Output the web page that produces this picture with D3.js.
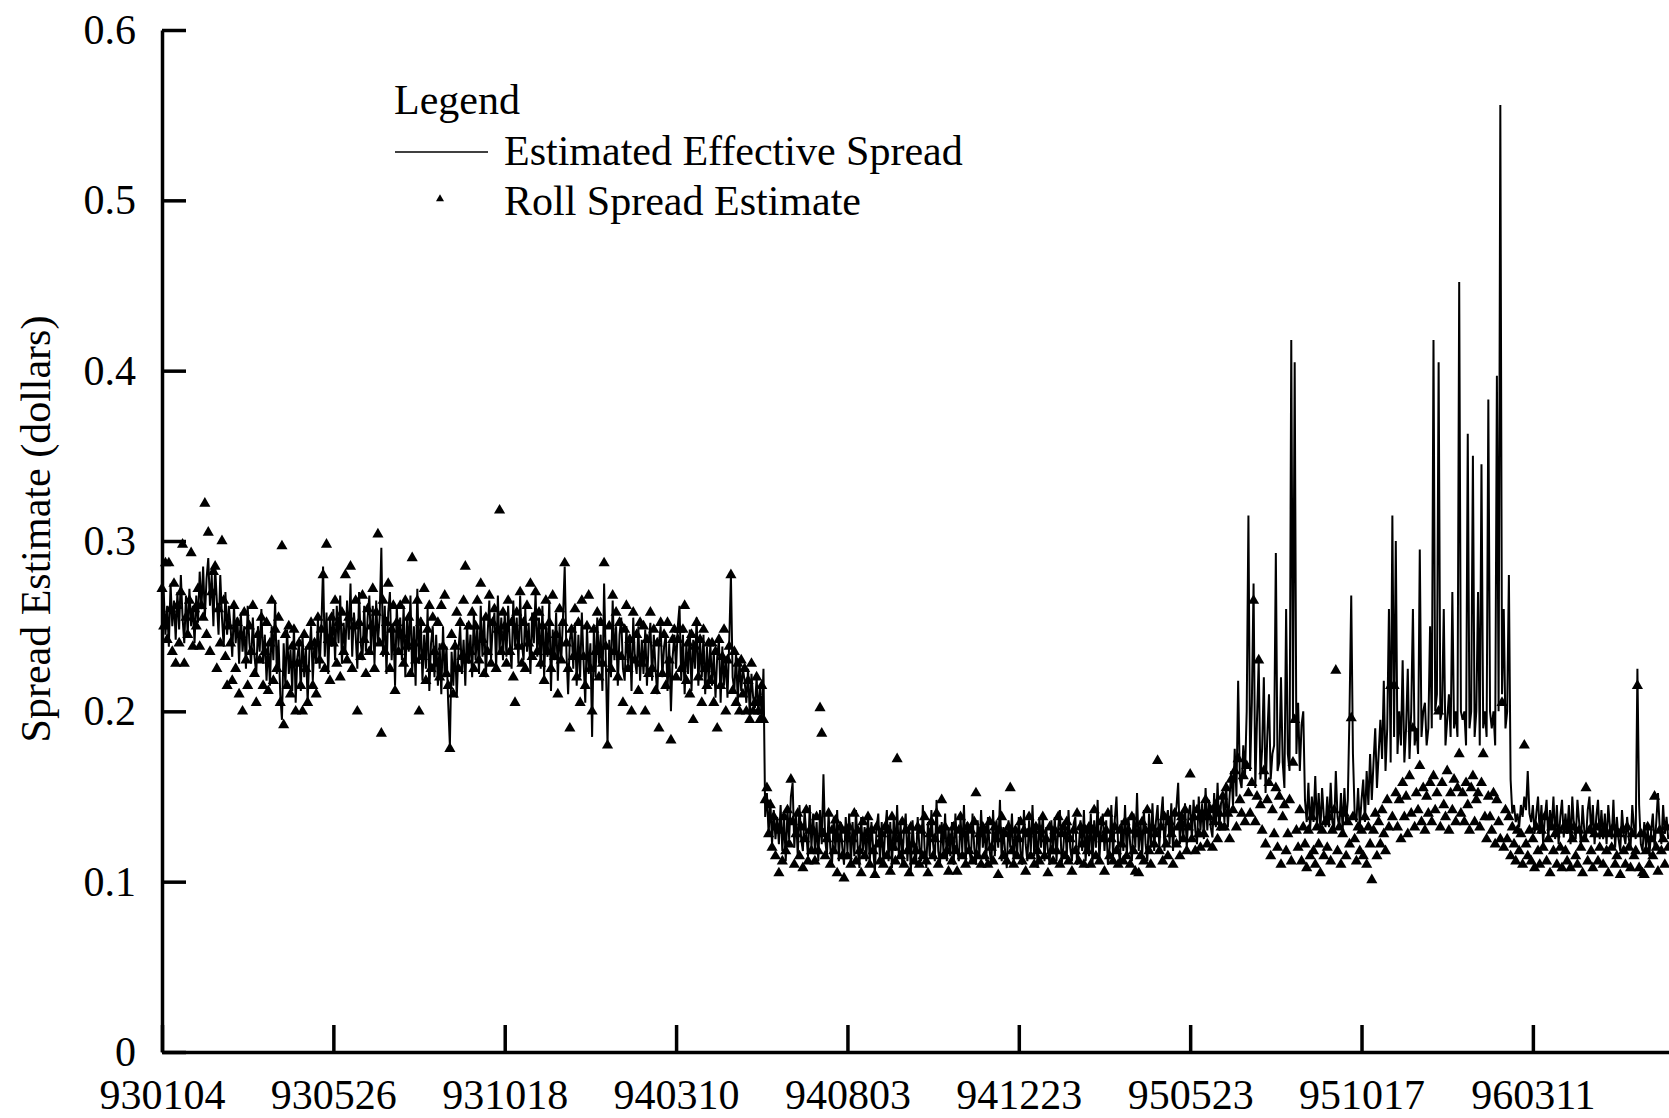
<!DOCTYPE html>
<html>
<head>
<meta charset="utf-8">
<script src="https://d3js.org/d3.v7.min.js"></script>
<style>
  body { margin: 0; background: #fff; }
  svg { display: block; }
  text { font-family: "Liberation Serif", "Times New Roman", serif; fill: #000; }
</style>
</head>
<body>
<div id="chart"></div>
<script>
// x tick labels (one every 100 trading days)
var xTickLabels = ["930104", "930526", "931018", "940310", "940803", "941223", "950523", "951017", "960311"];
var yTicks = [0, 0.1, 0.2, 0.3, 0.4, 0.5, 0.6];

// estimated effective spread, one value per trading day
var effSpread = [
  .255,.27,.245,.262,.238,.275,.25,.265,.242,.27,.248,.28,.255,.24,.268,.245,.272,.25,.262,.24,
  .268,.252,.282,.26,.285,.255,.278,.29,.262,.28,.25,.285,.265,.245,.28,.255,.238,.27,.245,.262,
  .25,.232,.262,.24,.255,.228,.258,.235,.25,.225,.262,.24,.228,.255,.232,.222,.25,.235,.26,.228,
  .245,.218,.24,.215,.25,.23,.265,.222,.242,.21,.195,.24,.215,.248,.222,.236,.212,.25,.205,.232,
  .24,.212,.245,.22,.238,.205,.235,.25,.218,.242,.228,.255,.225,.25,.285,.232,.258,.222,.255,.238,
  .26,.23,.262,.24,.268,.228,.252,.235,.265,.242,.275,.232,.258,.245,.225,.27,.24,.23,.262,.235,
  .255,.268,.235,.262,.228,.265,.24,.255,.296,.232,.262,.222,.258,.27,.23,.252,.215,.262,.238,.255,
  .23,.262,.22,.255,.235,.268,.222,.25,.215,.272,.228,.255,.218,.245,.225,.26,.212,.24,.25,.22,
  .245,.215,.24,.21,.25,.22,.238,.205,.18,.235,.215,.242,.208,.236,.25,.222,.242,.215,.252,.228,
  .245,.22,.258,.23,.25,.222,.262,.232,.255,.22,.245,.265,.23,.25,.258,.225,.268,.235,.255,.23,
  .258,.232,.262,.24,.225,.265,.238,.255,.228,.268,.24,.23,.26,.235,.252,.222,.258,.24,.27,.232,
  .255,.225,.262,.22,.25,.232,.265,.212,.248,.23,.258,.218,.25,.23,.255,.285,.235,.21,.242,.25,
  .225,.252,.215,.245,.22,.258,.23,.205,.25,.222,.24,.185,.248,.22,.255,.228,.245,.212,.275,.23,
  .18,.242,.22,.265,.23,.25,.215,.245,.255,.225,.218,.25,.228,.245,.212,.255,.23,.222,.25,.218,
  .242,.222,.248,.215,.24,.252,.218,.245,.225,.21,.24,.25,.22,.238,.245,.212,.24,.2,.232,.245,
  .225,.25,.262,.218,.245,.21,.24,.222,.248,.212,.242,.225,.255,.215,.242,.22,.245,.21,.238,.218,
  .24,.215,.235,.208,.232,.242,.205,.238,.215,.232,.208,.24,.28,.22,.212,.235,.205,.23,.212,.225,
  .218,.205,.225,.198,.222,.208,.202,.22,.198,.215,.195,.225,.138,.152,.128,.148,.122,.142,.125,.138,
  .122,.145,.118,.138,.112,.142,.125,.15,.158,.12,.14,.115,.145,.125,.118,.142,.128,.115,.145,.12,
  .14,.118,.135,.112,.142,.122,.163,.125,.115,.14,.12,.11,.138,.118,.142,.112,.135,.12,.11,.138,
  .118,.14,.11,.135,.115,.142,.12,.108,.138,.118,.132,.112,.14,.11,.135,.12,.105,.132,.14,.112,
  .135,.11,.13,.142,.112,.135,.108,.138,.118,.145,.115,.135,.11,.13,.14,.112,.132,.106,.136,.118,
  .11,.138,.12,.112,.145,.12,.108,.135,.115,.142,.122,.112,.148,.118,.11,.135,.118,.14,.112,.132,
  .115,.135,.11,.14,.12,.112,.138,.118,.145,.11,.135,.12,.112,.14,.12,.11,.136,.115,.142,.12,
  .132,.112,.138,.118,.11,.142,.115,.136,.12,.148,.112,.132,.118,.108,.136,.12,.14,.112,.132,.115,
  .138,.118,.11,.142,.122,.112,.136,.118,.145,.115,.132,.108,.138,.12,.14,.112,.132,.118,.11,.136,
  .118,.138,.112,.132,.142,.11,.12,.136,.115,.142,.12,.112,.134,.138,.11,.12,.136,.118,.142,.112,
  .132,.115,.14,.11,.136,.12,.148,.112,.132,.14,.118,.136,.11,.12,.145,.115,.136,.15,.12,.112,
  .136,.118,.145,.115,.138,.122,.112,.14,.12,.152,.118,.136,.115,.142,.122,.112,.14,.12,.146,.118,
  .135,.145,.12,.138,.15,.118,.136,.142,.122,.146,.118,.138,.144,.158,.122,.14,.125,.146,.12,.14,
  .145,.125,.148,.13,.122,.15,.13,.146,.125,.155,.13,.148,.132,.126,.152,.132,.158,.13,.146,.15,
  .135,.158,.132,.15,.165,.145,.178,.15,.218,.16,.155,.18,.162,.2,.315,.165,.205,.275,.155,.195,
  .23,.16,.178,.22,.152,.185,.21,.16,.175,.18,.293,.165,.17,.22,.17,.155,.26,.175,.165,.418,
  .195,.405,.175,.205,.165,.192,.2,.148,.135,.158,.13,.15,.135,.162,.132,.152,.13,.155,.138,.132,
  .15,.132,.158,.135,.13,.165,.138,.132,.152,.13,.155,.135,.148,.2,.268,.175,.14,.135,.155,.132,
  .148,.16,.135,.165,.145,.175,.148,.17,.19,.155,.175,.195,.172,.218,.165,.19,.26,.17,.315,.185,
  .3,.175,.2,.18,.23,.17,.19,.225,.172,.2,.26,.18,.19,.175,.295,.185,.2,.205,.18,.19,
  .25,.19,.418,.2,.21,.405,.195,.2,.26,.18,.195,.21,.185,.27,.19,.2,.185,.452,.2,.195,
  .2,.18,.363,.19,.2,.35,.185,.2,.27,.18,.345,.19,.2,.185,.383,.2,.19,.2,.18,.397,
  .2,.556,.21,.26,.19,.2,.28,.16,.14,.145,.135,.14,.132,.145,.138,.15,.142,.165,.14,.135,
  .145,.128,.14,.15,.128,.145,.122,.138,.148,.125,.142,.132,.15,.125,.145,.122,.138,.148,.126,.14,
  .128,.145,.122,.15,.132,.125,.148,.135,.122,.145,.13,.125,.142,.15,.128,.145,.122,.138,.148,.125,
  .142,.125,.14,.122,.145,.132,.125,.148,.12,.138,.125,.118,.142,.128,.122,.138,.125,.12,.145,.132,
  .125,.225,.145,.122,.118,.135,.12,.132,.115,.13,.14,.12,.135,.152,.132,.122,.145,.128,.138,.125
];

// roll spread estimate, same days
var rollSpread = [
  .272,.25,.287,.242,.287,.26,.235,.275,.228,.262,.24,.27,.298,.228,.255,.245,.265,.293,.238,.26,
  .25,.272,.238,.262,.255,.322,.245,.305,.235,.27,.282,.285,.225,.26,.24,.3,.265,.232,.215,.25,
  .24,.218,.262,.225,.252,.21,.245,.2,.258,.23,.215,.25,.235,.262,.222,.205,.245,.23,.255,.215,
  .235,.252,.212,.24,.265,.218,.248,.225,.255,.205,.297,.192,.245,.215,.25,.21,.238,.248,.2,.228,
  .24,.215,.2,.245,.225,.205,.238,.252,.215,.24,.21,.255,.23,.248,.28,.225,.298,.242,.218,.255,
  .24,.265,.228,.252,.22,.258,.235,.28,.23,.255,.285,.225,.25,.265,.2,.252,.232,.268,.242,.222,
  .26,.235,.25,.272,.225,.258,.304,.24,.187,.265,.235,.252,.275,.225,.248,.262,.212,.252,.235,.262,
  .245,.228,.265,.238,.255,.222,.29,.24,.23,.265,.2,.252,.232,.272,.218,.248,.262,.225,.255,.235,
  .228,.252,.22,.262,.238,.268,.222,.215,.178,.245,.21,.238,.258,.225,.252,.232,.265,.285,.23,.25,
  .235,.258,.225,.25,.265,.23,.275,.242,.222,.255,.235,.268,.228,.252,.26,.225,.248,.318,.235,.258,
  .25,.228,.265,.235,.252,.22,.205,.258,.238,.27,.228,.252,.225,.262,.24,.275,.232,.255,.27,.235,
  .258,.228,.25,.218,.265,.235,.252,.225,.268,.232,.245,.21,.26,.23,.252,.287,.24,.225,.19,.248,
  .232,.26,.22,.252,.205,.265,.232,.215,.25,.268,.225,.2,.248,.235,.258,.22,.252,.228,.287,.238,
  .18,.25,.225,.268,.235,.258,.22,.252,.232,.205,.248,.262,.225,.242,.2,.258,.23,.245,.212,.252,
  .228,.25,.2,.242,.222,.258,.225,.248,.212,.24,.19,.252,.222,.245,.215,.252,.23,.183,.242,.248,
  .22,.242,.248,.225,.248,.262,.218,.24,.21,.245,.195,.238,.252,.22,.242,.205,.248,.225,.215,.24,
  .218,.24,.205,.235,.19,.242,.215,.232,.248,.2,.23,.238,.28,.212,.235,.205,.228,.2,.23,.21,
  .225,.2,.218,.195,.228,.2,.205,.22,.2,.195,.215,.195,.148,.155,.128,.145,.12,.138,.115,.132,
  .105,.13,.112,.138,.118,.142,.122,.16,.135,.11,.128,.14,.115,.132,.108,.125,.142,.112,.13,.118,
  .13,.112,.138,.118,.202,.187,.128,.115,.125,.14,.11,.13,.118,.136,.105,.125,.132,.115,.102,.13,
  .115,.132,.11,.125,.14,.112,.13,.118,.105,.135,.115,.128,.138,.11,.13,.118,.104,.132,.122,.112,
  .128,.11,.132,.115,.13,.106,.138,.12,.112,.172,.125,.115,.135,.11,.13,.118,.105,.132,.122,.112,
  .118,.132,.11,.13,.115,.138,.112,.105,.128,.135,.115,.125,.14,.11,.13,.148,.115,.132,.118,.106,
  .125,.112,.132,.118,.106,.13,.138,.115,.128,.11,.132,.118,.13,.112,.135,.152,.115,.128,.11,.132,
  .115,.13,.11,.135,.12,.112,.132,.125,.104,.13,.138,.115,.128,.112,.132,.155,.118,.11,.13,.115,
  .125,.135,.112,.13,.106,.128,.138,.115,.13,.11,.132,.118,.112,.13,.138,.115,.125,.105,.132,.118,
  .112,.13,.118,.138,.11,.128,.132,.115,.135,.112,.125,.106,.13,.118,.14,.112,.132,.122,.11,.13,
  .118,.132,.11,.13,.142,.115,.128,.112,.135,.125,.106,.13,.14,.115,.125,.112,.132,.118,.11,.13,
  .122,.112,.135,.115,.13,.11,.138,.118,.106,.128,.105,.115,.135,.112,.13,.142,.118,.11,.132,.122,
  .128,.171,.118,.132,.112,.138,.122,.115,.135,.128,.11,.14,.122,.132,.115,.138,.125,.142,.118,.132,
  .163,.125,.138,.118,.142,.128,.12,.14,.128,.148,.122,.138,.142,.12,.135,.145,.125,.14,.132,.15,
  .132,.155,.14,.125,.16,.142,.165,.132,.172,.148,.14,.162,.135,.168,.152,.14,.158,.265,.135,.15,
  .23,.145,.13,.165,.122,.148,.158,.115,.142,.128,.155,.12,.15,.11,.138,.145,.118,.128,.148,.112,
  .17,.195,.13,.12,.142,.112,.132,.122,.108,.13,.115,.138,.118,.11,.132,.122,.105,.13,.115,.135,
  .12,.138,.112,.13,.142,.224,.118,.132,.11,.128,.14,.115,.135,.122,.196,.138,.125,.112,.132,.118,
  .13,.115,.138,.11,.132,.122,.101,.13,.14,.115,.135,.122,.142,.128,.118,.148,.132,.215,.138,.215,
  .152,.132,.148,.125,.158,.138,.15,.128,.162,.14,.19,.132,.152,.142,.168,.135,.155,.13,.15,.14,
  .158,.135,.162,.142,.152,.2,.132,.158,.145,.138,.165,.13,.152,.142,.16,.135,.155,.175,.14,.152,
  .135,.158,.145,.13,.155,.162,.135,.148,.152,.132,.158,.175,.138,.125,.15,.138,.13,.152,.122,.148,
  .135,.125,.205,.12,.142,.125,.138,.115,.132,.122,.112,.13,.118,.128,.11,.18,.122,.115,.13,.112,
  .125,.108,.132,.118,.11,.13,.12,.138,.112,.125,.105,.132,.118,.128,.11,.13,.12,.108,.132,.118,
  .112,.13,.108,.125,.132,.115,.11,.13,.12,.105,.125,.155,.112,.13,.118,.108,.128,.132,.112,.12,
  .128,.11,.13,.118,.105,.128,.12,.132,.11,.115,.128,.104,.13,.118,.11,.132,.12,.108,.128,.115,
  .118,.215,.108,.128,.105,.104,.118,.132,.11,.125,.115,.15,.12,.106,.13,.118,.125,.11,.132,.12
];

var width = 1669, height = 1118;
var plotLeft = 162, plotTop = 30, plotBottom = 1052;

var svg = d3.select("#chart").append("svg")
  .attr("width", width)
  .attr("height", height);

svg.append("rect").attr("width", width).attr("height", height).attr("fill", "#fff");

var x = d3.scaleLinear().domain([0, 880]).range([plotLeft, plotLeft + 880 * 1.7136]);
var y = d3.scaleLinear().domain([0, 0.6]).range([plotBottom, plotTop]);

// axes: ticks point into the plot
var xAxis = d3.axisBottom(x)
  .tickValues(xTickLabels.map(function (d, i) { return i * 100; }))
  .tickFormat(function (d) { return xTickLabels[d / 100]; })
  .tickSizeInner(-27)
  .tickSizeOuter(0)
  .tickPadding(27);

var yAxis = d3.axisLeft(y)
  .tickValues(yTicks)
  .tickFormat(function (d) { return d === 0 ? "0" : d3.format(".1f")(d); })
  .tickSizeInner(-24)
  .tickSizeOuter(0)
  .tickPadding(26);

var gx = svg.append("g").attr("transform", "translate(0," + plotBottom + ")").call(xAxis);
var gy = svg.append("g").attr("transform", "translate(" + plotLeft + ",0)").call(yAxis);

[gx, gy].forEach(function (g) {
  g.select(".domain").attr("stroke", "#000").attr("stroke-width", 3.5);
  g.selectAll(".tick line").attr("stroke", "#000").attr("stroke-width", 3.5);
  g.selectAll(".tick text")
    .style("font-family", "'Liberation Serif', 'Times New Roman', serif")
    .style("font-size", "42px")
    .attr("fill", "#000");
});

// y axis title
svg.append("text")
  .attr("transform", "translate(50,529) rotate(-90)")
  .attr("text-anchor", "middle")
  .style("font-size", "42px")
  .text("Spread Estimate (dollars)");

// the line series
var line = d3.line()
  .x(function (d, i) { return x(i); })
  .y(function (d) { return y(d); });

svg.append("path")
  .datum(effSpread)
  .attr("d", line)
  .attr("fill", "none")
  .attr("stroke", "#000")
  .attr("stroke-width", 2)
  .attr("stroke-linejoin", "miter");

// triangles
var tri = d3.symbol().type(d3.symbolTriangle).size(54);

svg.append("g").selectAll("path")
  .data(rollSpread)
  .enter()
  .append("path")
  .attr("d", tri)
  .attr("transform", function (d, i) { return "translate(" + x(i) + "," + y(d) + ")"; })
  .attr("fill", "#000");

// legend
var lg = svg.append("g");
lg.append("text").attr("x", 394).attr("y", 114).style("font-size", "42px").text("Legend");
lg.append("line")
  .attr("x1", 395).attr("x2", 488)
  .attr("y1", 152).attr("y2", 152)
  .attr("stroke", "#000").attr("stroke-width", 1.6);
lg.append("text").attr("x", 504).attr("y", 165).style("font-size", "42px").text("Estimated Effective Spread");
lg.append("path").attr("d", d3.symbol().type(d3.symbolTriangle).size(28)).attr("transform", "translate(440,199)").attr("fill", "#000");
lg.append("text").attr("x", 504).attr("y", 215).style("font-size", "42px").text("Roll Spread Estimate");
</script>
</body>
</html>
